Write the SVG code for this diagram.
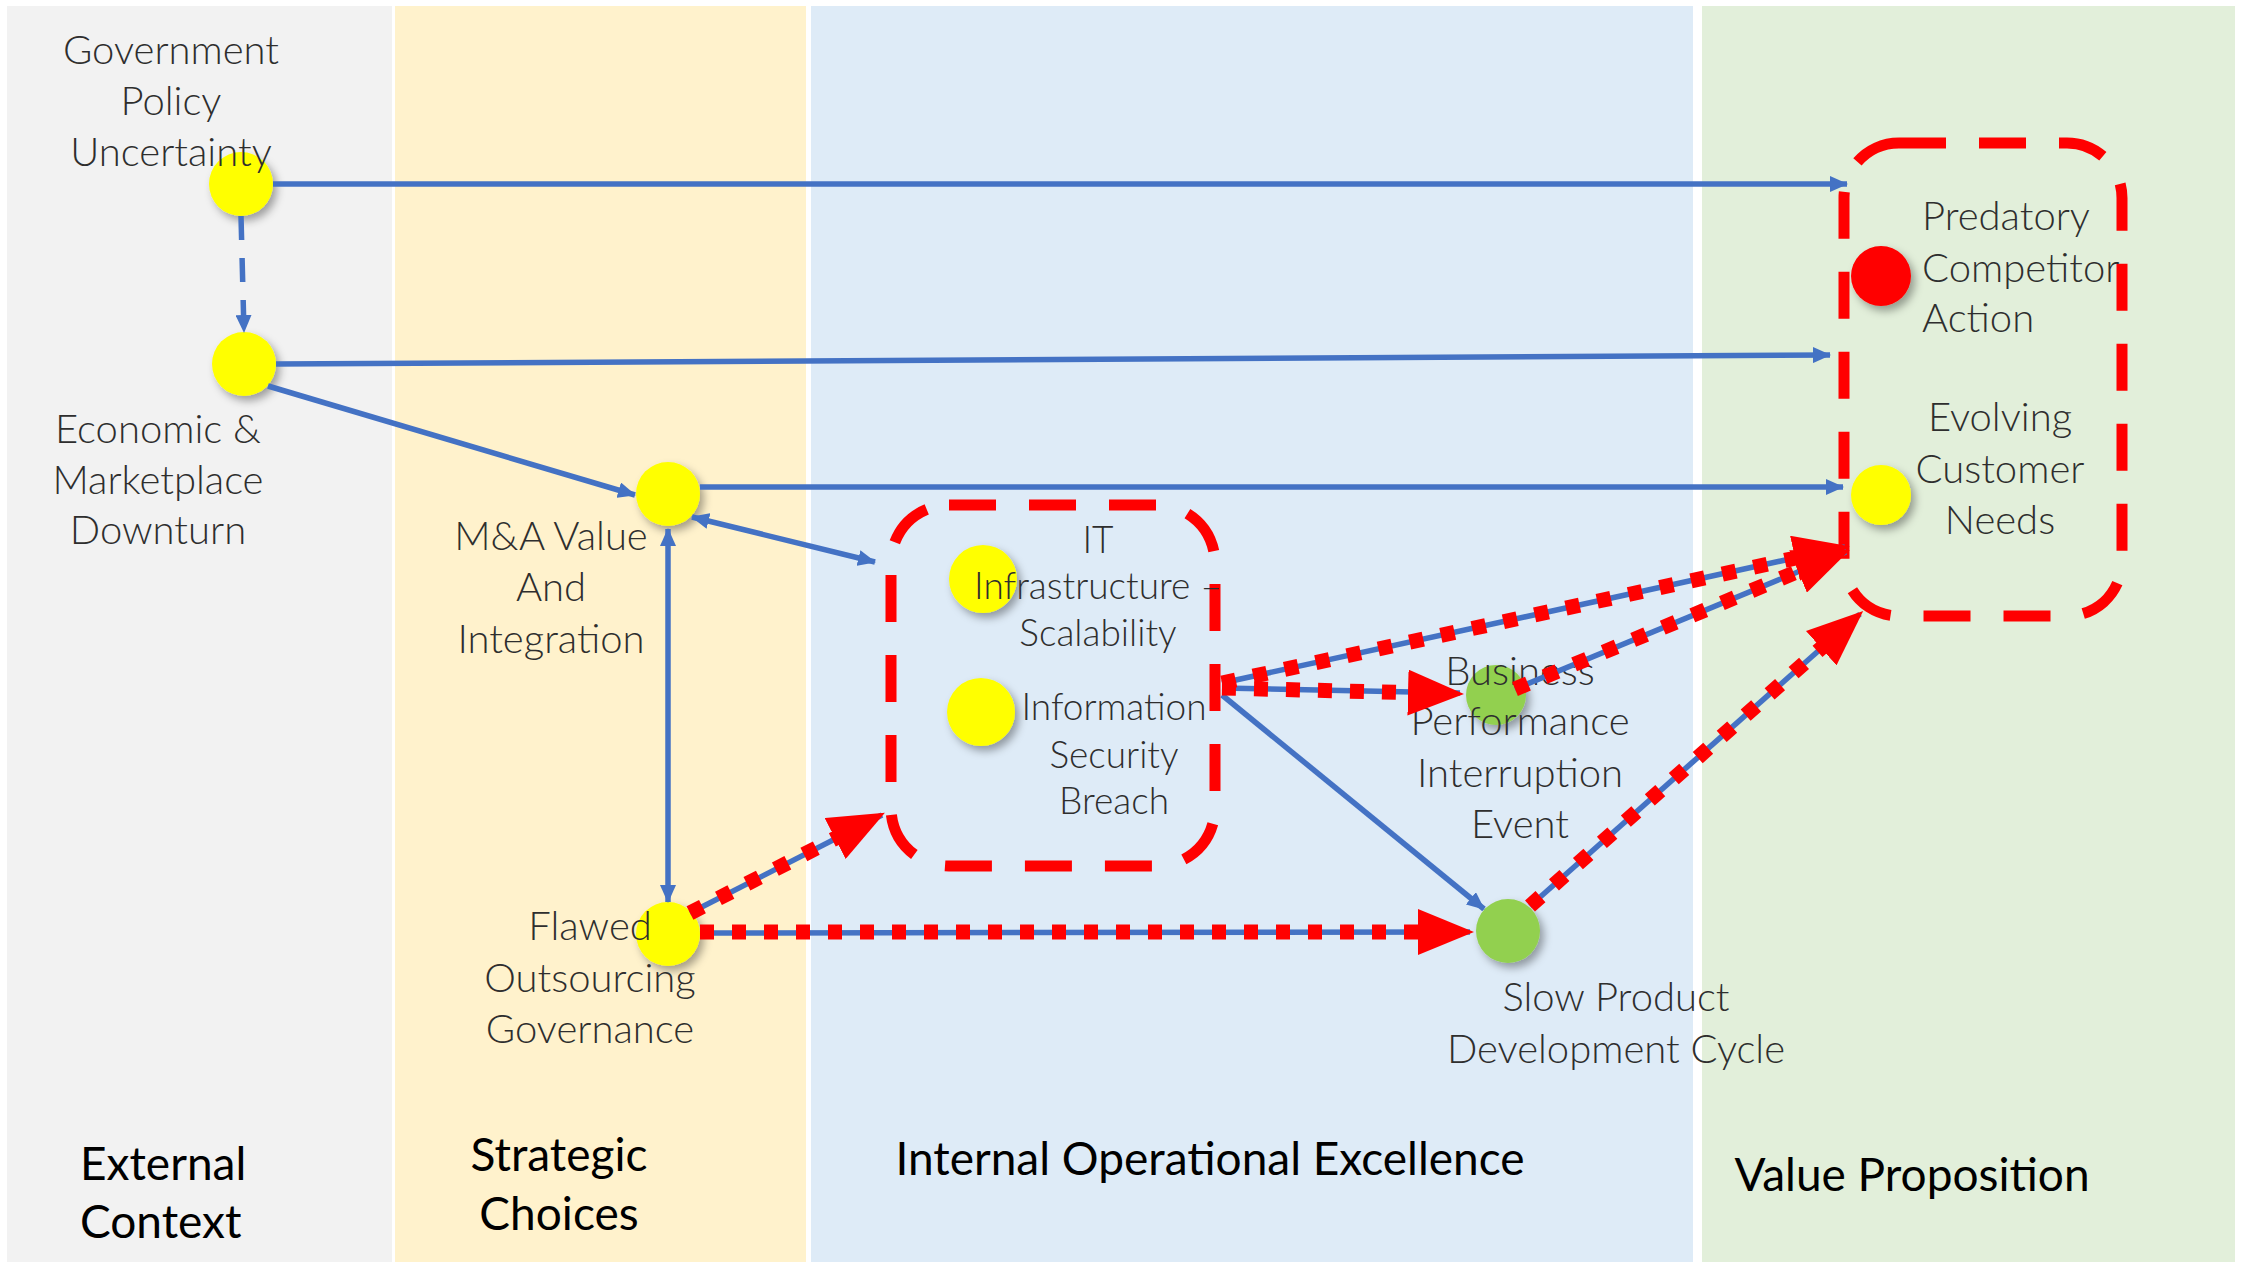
<svg xmlns="http://www.w3.org/2000/svg" width="2242" height="1266" viewBox="0 0 2242 1266">
<style>
.lbl{font-family:Lato,"Open Sans","Liberation Sans",sans-serif;font-weight:300;font-size:40px;fill:#2e2e2e;text-anchor:middle}
.sm{font-size:37px}
.st{text-anchor:start}
.pl{font-family:Lato,"Open Sans","Liberation Sans",sans-serif;font-weight:400;font-size:46px;fill:#000}
.blue{stroke:#4472c4;stroke-width:5.5;fill:none}
.red{stroke:#ff0000;stroke-width:15;fill:none;stroke-dasharray:14 18}
.box{stroke:#ff0000;stroke-width:11;fill:none;stroke-dasharray:47 33}
</style>
<defs>
<marker id="ba" markerUnits="userSpaceOnUse" markerWidth="18" markerHeight="16" viewBox="0 0 18 16" refX="17" refY="8" orient="auto-start-reverse"><path d="M0,0 L18,8 L0,16 z" fill="#4472c4"/></marker>
<marker id="ra" markerUnits="userSpaceOnUse" markerWidth="56" markerHeight="46" viewBox="0 0 56 46" refX="1" refY="23" orient="auto"><path d="M0,0 L56,23 L0,46 z" fill="#ff0000"/></marker>
<filter id="sh" x="-30%" y="-30%" width="170%" height="170%"><feDropShadow dx="4" dy="5" stdDeviation="4" flood-color="#000" flood-opacity="0.35"/></filter>
</defs>
<rect width="2242" height="1266" fill="#fff"/>
<g id="panels">
<rect x="7" y="6" width="385" height="1256" fill="#f2f2f2"/>
<rect x="395" y="6" width="411" height="1256" fill="#fff2cc"/>
<rect x="811" y="6" width="882" height="1256" fill="#deebf7"/>
<rect x="1702" y="6" width="533" height="1256" fill="#e2efda"/>
<text class="pl st" x="80" y="1180">External</text>
<text class="pl st" x="80" y="1238">Context</text>
<text class="pl" x="559" y="1171" text-anchor="middle">Strategic</text>
<text class="pl" x="559" y="1230" text-anchor="middle">Choices</text>
<text class="pl" x="1210" y="1175" text-anchor="middle">Internal Operational Excellence</text>
<text class="pl" x="1912" y="1191" text-anchor="middle">Value Proposition</text>
</g>
<g id="groups">
<rect id="it-box" class="box" x="891" y="505" width="324" height="361" rx="58"/>
<rect id="vp-box" class="box" x="1844" y="143" width="278" height="473" rx="55"/>
</g>
<g id="node-govt"><circle cx="241" cy="184" r="32" fill="#ffff00" filter="url(#sh)"/>
<text class="lbl" x="171" y="64">Government</text><text class="lbl" x="171" y="115">Policy</text><text class="lbl" x="171" y="166">Uncertainty</text></g>
<g id="node-econ"><circle cx="244" cy="364" r="32" fill="#ffff00" filter="url(#sh)"/>
<text class="lbl" x="158" y="443">Economic &amp;</text><text class="lbl" x="158" y="494">Marketplace</text><text class="lbl" x="158" y="544">Downturn</text></g>
<g id="node-ma"><circle cx="668" cy="494" r="32" fill="#ffff00" filter="url(#sh)"/>
<text class="lbl" x="551" y="550">M&amp;A Value</text><text class="lbl" x="551" y="601">And</text><text class="lbl" x="551" y="653">Integration</text></g>
<g id="node-flawed"><circle cx="668" cy="934" r="32" fill="#ffff00" filter="url(#sh)"/>
<text class="lbl" x="590" y="940">Flawed</text><text class="lbl" x="590" y="992">Outsourcing</text><text class="lbl" x="590" y="1043">Governance</text></g>
<g id="node-it"><circle cx="983" cy="579" r="34" fill="#ffff00" filter="url(#sh)"/>
<text class="lbl sm" x="1098" y="553">IT</text><text class="lbl sm" x="1098" y="599">Infrastructure –</text><text class="lbl sm" x="1098" y="646">Scalability</text></g>
<g id="node-info"><circle cx="981" cy="712" r="34" fill="#ffff00" filter="url(#sh)"/>
<text class="lbl sm" x="1114" y="720">Information</text><text class="lbl sm" x="1114" y="768">Security</text><text class="lbl sm" x="1114" y="814">Breach</text></g>
<g id="node-pred"><circle cx="1881" cy="276" r="30" fill="#ff0000" filter="url(#sh)"/>
<text class="lbl st" x="1922" y="230">Predatory</text><text class="lbl st" x="1922" y="282">Competitor</text><text class="lbl st" x="1922" y="332">Action</text></g>
<g id="node-evolve"><circle cx="1881" cy="495" r="30" fill="#ffff00" filter="url(#sh)"/>
<text class="lbl" x="2000" y="431">Evolving</text><text class="lbl" x="2000" y="483">Customer</text><text class="lbl" x="2000" y="534">Needs</text></g>
<g id="node-bpi"><circle cx="1496" cy="695" r="30" fill="#92d050" filter="url(#sh)"/>
<text class="lbl" x="1520" y="685">Business</text><text class="lbl" x="1520" y="735">Performance</text><text class="lbl" x="1520" y="787">Interruption</text><text class="lbl" x="1520" y="838">Event</text></g>
<g id="node-slow"><circle cx="1508" cy="931" r="32" fill="#92d050" filter="url(#sh)"/>
<text class="lbl" x="1616" y="1011">Slow Product</text><text class="lbl" x="1616" y="1063">Development Cycle</text></g>
<g id="connectors">
<path class="blue" d="M273,184 L1847,184" marker-end="url(#ba)"/>
<path class="blue" d="M276,364 L1830,355" marker-end="url(#ba)"/>
<path class="blue" d="M268,386 L635,495" marker-end="url(#ba)"/>
<path class="blue" d="M700,487 L1843,487" marker-end="url(#ba)"/>
<path class="blue" d="M692,517 L875,562" marker-start="url(#ba)" marker-end="url(#ba)"/>
<path class="blue" d="M668,529 L668,902" marker-start="url(#ba)" marker-end="url(#ba)"/>
<path class="blue" d="M241,216 L244,332" stroke-dasharray="24 18" marker-end="url(#ba)"/>
<path class="blue" d="M1222,695 L1484,909" marker-end="url(#ba)"/>
<path class="blue" d="M700,933 L1470,932"/>
<path class="blue" d="M1222,688 L1460,693"/>
<path class="blue" d="M690,913 L882,815"/>
<path class="blue" d="M1222,683 L1845,547"/>
<path class="blue" d="M1515,689 L1846,552"/>
<path class="blue" d="M1530,906 L1860,614"/>
<path class="red" d="M700,932 L1419,932" marker-end="url(#ra)"/>
<path class="red" d="M1222,688 L1409,692.6" marker-end="url(#ra)"/>
<path class="red" d="M690,913 L836,838" marker-end="url(#ra)"/>
<path class="red" d="M1222,683 L1796,558" marker-end="url(#ra)"/>
<path class="red" d="M1515,689 L1799,571" marker-end="url(#ra)"/>
<path class="red" d="M1530,906 L1822,647.5" marker-end="url(#ra)"/>
</g>
</svg>
